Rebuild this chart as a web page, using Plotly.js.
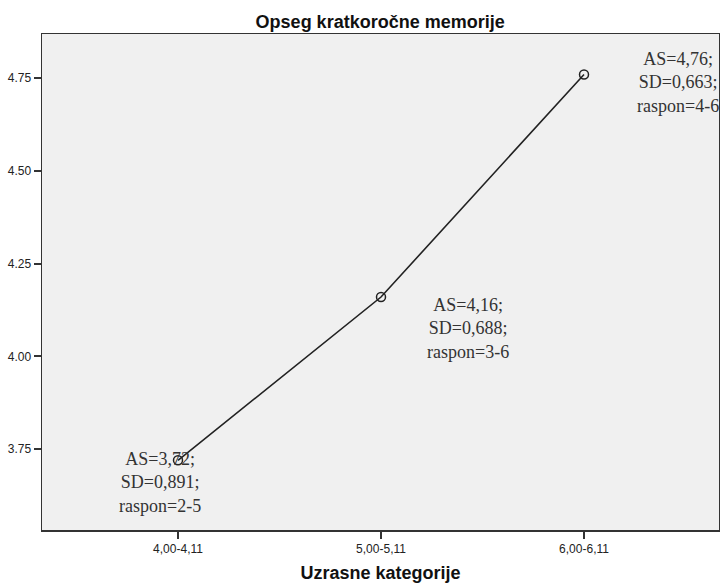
<!DOCTYPE html>
<html>
<head>
<meta charset="utf-8">
<script src="https://cdn.plot.ly/plotly-3.0.1.min.js"></script>
<style>html,body{margin:0;padding:0;background:#fff;}#chart{width:720px;height:583px;}</style>
</head>
<body>
<div id="chart"></div>
<script>
var categories = ["4,00-4,11", "5,00-5,11", "6,00-6,11"];
var means = [3.72, 4.16, 4.76];
var meanLabels = ["3,72", "4,16", "4,76"];
var sdLabels = ["0,891", "0,688", "0,663"];
var rangeLabels = ["2-5", "3-6", "4-6"];
var yTicks = [3.75, 4.00, 4.25, 4.50, 4.75];

var xIdx = categories.map(function(c, i){ return i; });

var trace = {
  x: xIdx,
  y: means,
  mode: "lines+markers",
  type: "scatter",
  line: {color: "#222", width: 1.6},
  marker: {symbol: "circle-open", size: 9, color: "#222", line: {width: 1.5, color: "#222"}},
  hoverinfo: "skip",
  cliponaxis: false
};

var annPos = [[-0.09, 3.661], [1.43, 4.076], [2.463, 4.737]];
var annotations = categories.map(function(c, i){
  return {
    x: annPos[i][0], y: annPos[i][1], xref: "x", yref: "y",
    text: "AS=" + meanLabels[i] + ";<br>SD=" + sdLabels[i] + ";<br>raspon=" + rangeLabels[i],
    showarrow: false, align: "center",
    font: {family: "Liberation Serif, Times New Roman, serif", size: 18, color: "#333"}
  };
});

var layout = {
  width: 720, height: 583,
  margin: {l: 42, r: 1, t: 34, b: 53},
  paper_bgcolor: "#ffffff",
  plot_bgcolor: "#f0f0f0",
  showlegend: false,
  title: {text: "<b>Opseg kratkoročne memorije</b>", x: 0.528, xanchor: "center", y: 0.963, yanchor: "middle",
          font: {family: "Liberation Sans, Arial, sans-serif", size: 18, color: "#111"}},
  xaxis: {
    range: [-0.67, 2.665],
    tickvals: xIdx, ticktext: categories,
    showgrid: false, zeroline: false,
    showline: true, mirror: true, linecolor: "#333", linewidth: 1.5,
    ticks: "outside", ticklen: 7, tickwidth: 2, tickcolor: "#333",
    tickfont: {family: "Liberation Sans, Arial, sans-serif", size: 12, color: "#222"},
    title: {text: "<b>Uzrasne kategorije</b>", standoff: 12,
            font: {family: "Liberation Sans, Arial, sans-serif", size: 18, color: "#111"}}
  },
  yaxis: {
    range: [3.532, 4.869],
    tickvals: yTicks, ticktext: yTicks.map(function(v){ return v.toFixed(2); }),
    showgrid: false, zeroline: false,
    showline: true, mirror: true, linecolor: "#333", linewidth: 1.5,
    ticks: "outside", ticklen: 7, tickwidth: 2, tickcolor: "#333",
    tickfont: {family: "Liberation Sans, Arial, sans-serif", size: 12, color: "#222"}
  },
  annotations: annotations
};

Plotly.newPlot("chart", [trace], layout, {displayModeBar: false, staticPlot: true});
</script>
</body>
</html>
